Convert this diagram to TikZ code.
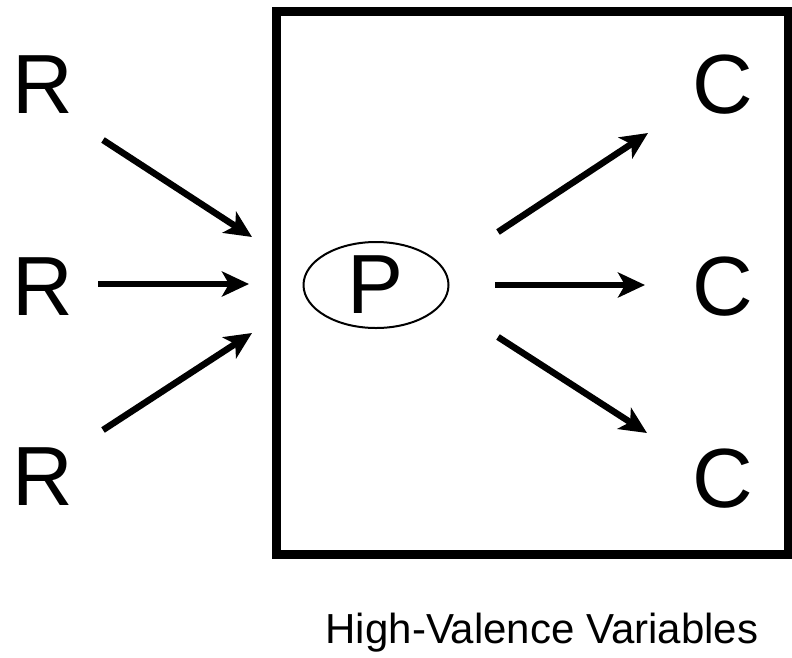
\documentclass[tikz,border=0pt]{standalone}
\usepackage{fontspec}
\setmainfont{Liberation Sans}
\usepackage{tikz}
\usetikzlibrary{arrows.meta}
\usetikzlibrary{shapes.geometric}

\begin{document}
\begin{tikzpicture}[
  x=1pt,y=-1pt,
  ray/.style={line width=6.5pt,-{Stealth[length=27pt,width=25pt,inset=7pt]}},
  frame/.style={line width=9pt,line join=miter},
  letter/.style={font=\fontsize{84}{84}\selectfont,inner sep=0pt,anchor=base},
  caption/.style={font=\fontsize{42}{42}\selectfont,inner sep=0pt,anchor=base},
  bubble/.style={draw,ellipse,line width=2pt,inner sep=0pt,
    minimum width=145pt,minimum height=86pt,font=\fontsize{84}{84}\selectfont}
]
  \useasboundingbox (0,0) rectangle (792,657);

  \def\bxL{276}
  \def\bxR{788}
  \def\bxT{11}
  \def\bxB{554}

  % the frame
  \draw[frame] (\bxL,\bxT) rectangle (\bxR,\bxB);

  % left and right letters
  \node[letter] (r1) at (43,113) {R};
  \node[letter] (r2) at (43,315) {R};
  \node[letter] (r3) at (43,505) {R};
  \node[letter] (c1) at (723,113) {C};
  \node[letter] (c2) at (723,315) {C};
  \node[letter] (c3) at (723,507) {C};

  \node[bubble] (p) at (376,285) {P};

  \node[caption] (hv) at (542,643) {High-Valence Variables};

  % arrow ends
  \coordinate (r1t) at (103,140);
  \coordinate (r1h) at (252,237);
  \coordinate (r2t) at (98,284);
  \coordinate (r2h) at (249,284);
  \coordinate (r3t) at (103,430);
  \coordinate (r3h) at (252,333);
  \coordinate (c1t) at (498,232);
  \coordinate (c1h) at (648,133);
  \coordinate (c2t) at (495,285);
  \coordinate (c2h) at (645,285);
  \coordinate (c3t) at (498,337);
  \coordinate (c3h) at (647,433);

  \draw[ray] (r1t) -- (r1h);
  \draw[ray] (r2t) -- (r2h);
  \draw[ray] (r3t) -- (r3h);
  \draw[ray] (c1t) -- (c1h);
  \draw[ray] (c2t) -- (c2h);
  \draw[ray] (c3t) -- (c3h);
\end{tikzpicture}
\end{document}
